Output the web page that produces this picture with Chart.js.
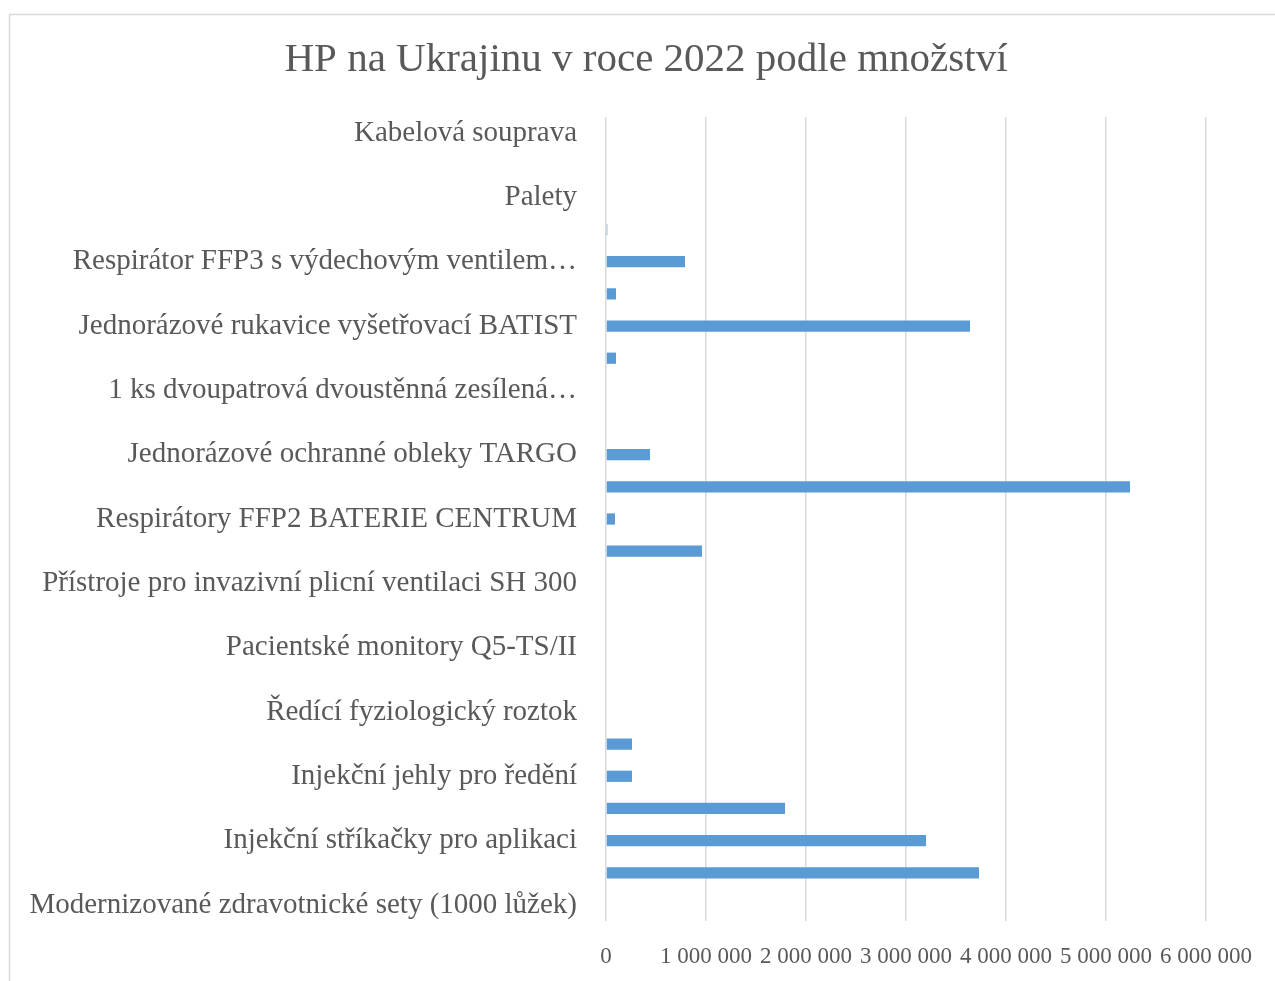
<!DOCTYPE html>
<html>
<head>
<meta charset="utf-8">
<script src="https://cdn.jsdelivr.net/npm/chart.js@4"></script>
<style>
html,body{margin:0;padding:0;background:#fff;overflow:hidden;}
#wrap{position:absolute;left:0;top:0;width:1275px;height:981px;}
</style>
</head>
<body>
<div id="wrap"><canvas id="c" width="1275" height="981"></canvas></div>
<script>
const chartTitle = "HP na Ukrajinu v roce 2022 podle množství";
const categories = [
  "Kabelová souprava",
  "Elektrocentrála",
  "Palety",
  "Lékárničky",
  "Respirátor FFP3 s výdechovým ventilem…",
  "Respirátory FFP3",
  "Jednorázové rukavice vyšetřovací BATIST",
  "Jednorázové rukavice nitrilové",
  "1 ks dvoupatrová dvoustěnná zesílená…",
  "Lůžka",
  "Jednorázové ochranné obleky TARGO",
  "Chirurgické roušky",
  "Respirátory FFP2 BATERIE CENTRUM",
  "Respirátory FFP2",
  "Přístroje pro invazivní plicní ventilaci SH 300",
  "Defibrilátory",
  "Pacientské monitory Q5-TS/II",
  "Infuzní pumpy",
  "Ředící fyziologický roztok",
  "Injekční jehly pro aplikaci",
  "Injekční jehly pro ředění",
  "Injekční stříkačky pro ředění",
  "Injekční stříkačky pro aplikaci",
  "Vakcíny",
  "Modernizované zdravotnické sety (1000 lůžek)"
];
const quantities = [
  0, 0, 0, 13000, 790000, 100000, 3640000, 100000, 0, 0,
  440000, 5240000, 90000, 960000, 0, 0, 0, 0, 0, 260000,
  260000, 1790000, 3200000, 3730000, 0
];
const xTicks = [0, 1000000, 2000000, 3000000, 4000000, 5000000, 6000000];

const FONT = "'Liberation Serif', serif";
const TXT = "#595959";
const GRID = "#d9d9d9";

const framePlugin = {
  id: 'frame',
  beforeDraw(chart) {
    const ctx = chart.ctx;
    ctx.save();
    ctx.strokeStyle = GRID;
    ctx.lineWidth = 1.5;
    ctx.beginPath();
    ctx.moveTo(9.5, 981);
    ctx.lineTo(9.5, 14.5);
    ctx.lineTo(1275, 14.5);
    ctx.stroke();
    ctx.fillStyle = TXT;
    ctx.font = "41px " + FONT;
    ctx.textAlign = 'center';
    ctx.textBaseline = 'middle';
    ctx.fillText(chartTitle, 646, 60);
    ctx.restore();
  }
};

function fmt(v) {
  return String(v).replace(/\B(?=(\d{3})+(?!\d))/g, ' ');
}

new Chart(document.getElementById('c'), {
  type: 'bar',
  data: {
    labels: categories,
    datasets: [{
      data: quantities,
      backgroundColor: '#5b9bd5',
      borderWidth: 0,
      barPercentage: 0.35,
      categoryPercentage: 1.0
    }]
  },
  plugins: [framePlugin],
  options: {
    indexAxis: 'y',
    responsive: false,
    animation: false,
    layout: { padding: { left: 9, top: 117, right: 69, bottom: 0 } },
    plugins: {
      legend: { display: false },
      tooltip: { enabled: false },
      title: { display: false }
    },
    scales: {
      x: {
        min: 0,
        max: 6000000,
        afterBuildTicks(scale) { scale.ticks = xTicks.map(v => ({ value: v })); },
        afterFit(scale) { scale.height = 60; },
        ticks: {
          autoSkip: false,
          maxRotation: 0,
          color: TXT,
          padding: 22,
          font: { family: FONT, size: 23 },
          callback: v => fmt(v)
        },
        grid: { color: GRID, lineWidth: 1.5, drawTicks: false },
        border: { display: false }
      },
      y: {
        afterFit(scale) { scale.width = 597; },
        ticks: {
          autoSkip: false,
          color: TXT,
          padding: 29,
          font: { family: FONT, size: 29 },
          callback: function(v, i) { return i % 2 === 0 ? categories[i] : ''; }
        },
        grid: { display: false, drawTicks: false },
        border: { display: false }
      }
    }
  }
});
</script>
</body>
</html>
